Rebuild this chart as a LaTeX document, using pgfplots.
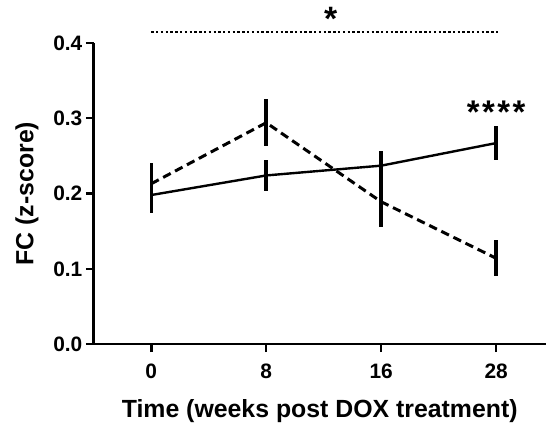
\documentclass[border=0pt]{standalone}
\usepackage{fontspec}
\setmainfont{Liberation Sans}
\usepackage{pgfplots}
\pgfplotsset{compat=1.18}
\begin{document}
\begin{tikzpicture}
\begin{axis}[
  name=ax,
  scale only axis, width=453bp, height=302bp,
  xmin=-0.5, xmax=3.43, ymin=0, ymax=0.4,
  axis x line*=bottom, axis y line*=left,
  axis line style={line width=2.7bp},
  xtick={0,1,2,3}, xticklabels={0,8,16,28},
  ytick={0,0.1,0.2,0.3,0.4},
  yticklabel style={/pgf/number format/.cd, fixed, fixed zerofill, precision=1},
  /pgf/number format/assume math mode=true,
  tick style={line width=2.5bp, black}, tick align=outside, major tick length=8bp,
  ticklabel style={font=\fontsize{21}{24}\selectfont\bfseries},
  xticklabel style={yshift=-8bp},
  label style={font=\fontsize{25}{29}\selectfont\bfseries},
  xlabel={Time (weeks post DOX treatment)}, ylabel={FC (z-score)},
  xlabel style={yshift=-14bp},
  ylabel style={yshift=8bp},
  clip=false,
]
\addplot[black, line width=3bp, dash pattern=on 8.5bp off 5bp,
  error bars/.cd, y dir=both, y explicit, error mark=none,
  error bar style={line width=3.5bp, solid}]
  coordinates {(0,0.213) +- (0,0.028) (1,0.294) +- (0,0.031) (2,0.189) +- (0,0.034) (3,0.114) +- (0,0.024)};
\addplot[black, line width=2.4bp,
  error bars/.cd, y dir=both, y explicit, error mark=none,
  error bar style={line width=3.5bp}]
  coordinates {(0,0.198) +- (0,0.024) (1,0.224) +- (0,0.021) (2,0.237) +- (0,0.019) (3,0.267) +- (0,0.022)};
\addplot[black, line width=2.2bp, dash pattern=on 2.4bp off 2.4bp] coordinates {(0,0.4146) (3.03,0.4146)};
\node[font=\fontsize{34}{34}\selectfont\bfseries] at (axis cs:1.56,0.432) {*};
\node[font=\fontsize{33}{33}\selectfont\bfseries] at (axis cs:3.0,0.308) {*\hspace{2.5bp}*\hspace{2.5bp}*\hspace{2.5bp}*};
\end{axis}
\path ([shift={(-94bp,-82bp)}]ax.south west) rectangle ([shift={(0bp,43bp)}]ax.north east);
\end{tikzpicture}
\end{document}
